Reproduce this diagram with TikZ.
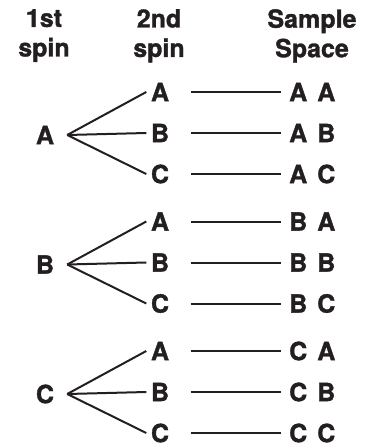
\documentclass[tikz,border=0pt]{standalone}
\usepackage{fontspec}
\newfontfamily\heavyfont{texgyreheros-bold.otf}[FakeBold=1.3]
\definecolor{ink}{HTML}{231F20}
\begin{document}
\begin{tikzpicture}[x=1pt,y=-1pt,
  lab/.style={font=\heavyfont\fontsize{25}{29.5}\selectfont, text=ink, inner ysep=0pt},
  head/.style={lab, align=center, anchor=north, inner sep=0pt},
  firstlab/.style={lab, inner xsep=13pt},
  secondlab/.style={lab, inner xsep=4.5pt},
  pairlab/.style={lab, anchor=west, inner xsep=8pt},
  branch/.style={draw=ink, line width=2pt},
  link/.style={draw=ink, line width=2pt, shorten <=17pt}]
\useasboundingbox (0,0) rectangle (367,446);
\node[head] (h1) at (44,9) {1st\\spin};
\node[head] (h2) at (159,9) {2nd\\spin};
\node[head] (h3) at (312,9) {Sample\\Space};
\foreach \g/\G [count=\gi from 0] in {1/A,2/B,3/C}{
  \pgfmathsetmacro{\yb}{92+129.5*\gi}
  \node[firstlab] (f\g) at (45,\yb+43) {\G};
  \foreach \j/\J [count=\ji from 0] in {1/A,2/B,3/C}{
    \pgfmathsetmacro{\yy}{\yb+41*\ji}
    \node[secondlab] (s\g\j) at (160,\yy) {\J};
    \node[pairlab] (p\g\j) at (281,\yy) {\G\hspace{10pt}\J};
    \path[branch] (f\g.east) -- (s\g\j.west);
    \path[link] (s\g\j.east) -- (p\g\j.west);
  }
}
\end{tikzpicture}
\end{document}
